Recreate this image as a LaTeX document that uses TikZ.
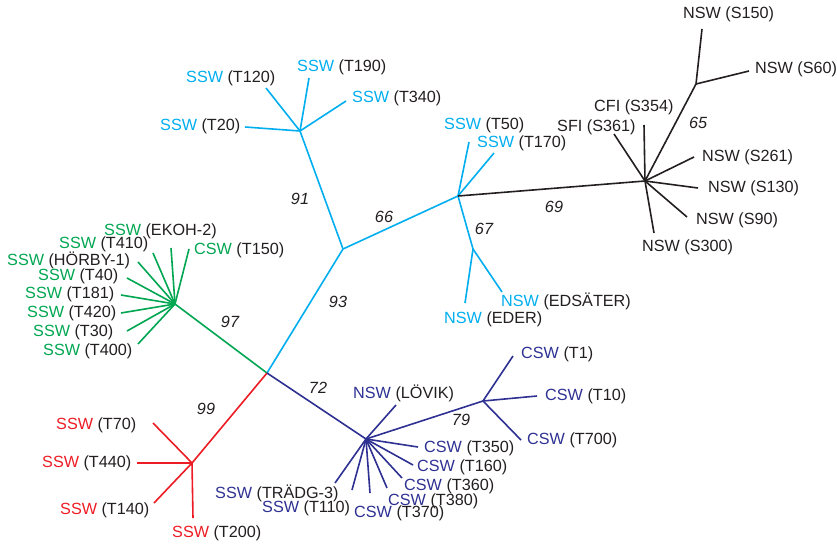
\documentclass[tikz,border=0pt]{standalone}
\usepackage{fontspec}
\setmainfont{Liberation Sans}
\definecolor{sswcyan}{RGB}{0,174,239}
\definecolor{sswgreen}{RGB}{0,166,81}
\definecolor{sswred}{RGB}{237,28,36}
\definecolor{sswblue}{RGB}{46,49,146}
\definecolor{txt}{RGB}{35,31,32}
\tikzset{
  cyanedge/.style={draw=sswcyan, line width=1.6pt},
  blackedge/.style={draw=txt, line width=1.6pt},
  greenedge/.style={draw=sswgreen, line width=1.6pt},
  rededge/.style={draw=sswred, line width=1.6pt},
  blueedge/.style={draw=sswblue, line width=1.6pt},
  lbl/.style={anchor=west, inner sep=0pt, text=txt, font=\fontsize{16.2}{18}\selectfont},
  boot/.style={inner sep=0pt, text=txt, font=\fontsize{16.2}{18}\selectfont\itshape}
}
\begin{document}
\begin{tikzpicture}[x=1pt, y=-1pt]
\useasboundingbox (0,0) rectangle (837,546);
\coordinate (root) at (267,373);
\coordinate (cm) at (343,249);
\coordinate (ct) at (300,131);
\coordinate (cr) at (458,196);
\coordinate (ce) at (473,249);
\coordinate (bk) at (645,181);
\coordinate (bt) at (696,84);
\coordinate (gr) at (175,304);
\coordinate (rd) at (192,463);
\coordinate (pl) at (366,439);
\coordinate (pr) at (483,401);
\coordinate (t20) at (245,127);
\coordinate (t120) at (266,88);
\coordinate (t190) at (309,78);
\coordinate (t340) at (346,101);
\coordinate (t50) at (469,142);
\coordinate (t170) at (494,153);
\coordinate (edsater) at (502,292);
\coordinate (eder) at (465,303);
\coordinate (s354) at (644,125);
\coordinate (s361) at (614,134);
\coordinate (s261) at (694,157);
\coordinate (s130) at (698,188);
\coordinate (s90) at (687,217);
\coordinate (s300) at (654,233);
\coordinate (s150) at (702,29);
\coordinate (s60) at (749,71);
\coordinate (ekoh) at (171,248);
\coordinate (t410) at (153,253);
\coordinate (horby) at (138,262);
\coordinate (t40) at (127,278);
\coordinate (t181) at (121,295);
\coordinate (t420) at (121,313);
\coordinate (t30) at (127,331);
\coordinate (t400) at (138,344);
\coordinate (t150) at (189,249);
\coordinate (t70) at (153,423);
\coordinate (t440) at (137,463);
\coordinate (t140) at (154,503);
\coordinate (t200) at (193,518);
\coordinate (lovik) at (396,405);
\coordinate (t350) at (418,447);
\coordinate (t160) at (413,465);
\coordinate (t360) at (402,478);
\coordinate (t380) at (387,488);
\coordinate (t370) at (370,493);
\coordinate (t110) at (352,490);
\coordinate (tradg) at (335,483);
\coordinate (t1) at (513,356);
\coordinate (t10) at (537,396);
\coordinate (t700) at (521,440);

\draw[cyanedge] (root) -- (cm);
\draw[cyanedge] (cm) -- (ct);
\draw[cyanedge] (ct) -- (t20);
\draw[cyanedge] (ct) -- (t120);
\draw[cyanedge] (ct) -- (t190);
\draw[cyanedge] (ct) -- (t340);
\draw[cyanedge] (cm) -- (cr);
\draw[cyanedge] (cr) -- (t50);
\draw[cyanedge] (cr) -- (t170);
\draw[cyanedge] (cr) -- (ce);
\draw[cyanedge] (ce) -- (edsater);
\draw[cyanedge] (ce) -- (eder);
\draw[blackedge] (cr) -- (bk);
\draw[blackedge] (bk) -- (s354);
\draw[blackedge] (bk) -- (s361);
\draw[blackedge] (bk) -- (s261);
\draw[blackedge] (bk) -- (s130);
\draw[blackedge] (bk) -- (s90);
\draw[blackedge] (bk) -- (s300);
\draw[blackedge] (bk) -- (bt);
\draw[blackedge] (bt) -- (s150);
\draw[blackedge] (bt) -- (s60);
\draw[greenedge] (root) -- (gr);
\draw[greenedge] (gr) -- (ekoh);
\draw[greenedge] (gr) -- (t410);
\draw[greenedge] (gr) -- (horby);
\draw[greenedge] (gr) -- (t40);
\draw[greenedge] (gr) -- (t181);
\draw[greenedge] (gr) -- (t420);
\draw[greenedge] (gr) -- (t30);
\draw[greenedge] (gr) -- (t400);
\draw[greenedge] (gr) -- (t150);
\draw[rededge] (root) -- (rd);
\draw[rededge] (rd) -- (t70);
\draw[rededge] (rd) -- (t440);
\draw[rededge] (rd) -- (t140);
\draw[rededge] (rd) -- (t200);
\draw[blueedge] (root) -- (pl);
\draw[blueedge] (pl) -- (lovik);
\draw[blueedge] (pl) -- (t350);
\draw[blueedge] (pl) -- (t160);
\draw[blueedge] (pl) -- (t360);
\draw[blueedge] (pl) -- (t380);
\draw[blueedge] (pl) -- (t370);
\draw[blueedge] (pl) -- (t110);
\draw[blueedge] (pl) -- (tradg);
\draw[blueedge] (pl) -- (pr);
\draw[blueedge] (pr) -- (t1);
\draw[blueedge] (pr) -- (t10);
\draw[blueedge] (pr) -- (t700);

\node[lbl] (l-t20) at (160,126) {\textcolor{sswcyan}{SSW} (T20)};
\node[lbl] (l-t120) at (186,78) {\textcolor{sswcyan}{SSW} (T120)};
\node[lbl] (l-t190) at (297,67) {\textcolor{sswcyan}{SSW} (T190)};
\node[lbl] (l-t340) at (352,98) {\textcolor{sswcyan}{SSW} (T340)};
\node[lbl] (l-t50) at (444,125) {\textcolor{sswcyan}{SSW} (T50)};
\node[lbl] (l-t170) at (477,143) {\textcolor{sswcyan}{SSW} (T170)};
\node[lbl] (l-edsater) at (501,301) {\textcolor{sswcyan}{NSW} (EDSÄTER)};
\node[lbl] (l-eder) at (444,319) {\textcolor{sswcyan}{NSW} (EDER)};
\node[lbl] (l-s354) at (594,107) {CFI (S354)};
\node[lbl] (l-s361) at (557,127) {SFI (S361)};
\node[lbl] (l-s261) at (702,157) {NSW (S261)};
\node[lbl] (l-s130) at (708,188) {NSW (S130)};
\node[lbl] (l-s90) at (696,220) {NSW (S90)};
\node[lbl] (l-s300) at (642,247) {NSW (S300)};
\node[lbl] (l-s150) at (683,14) {NSW (S150)};
\node[lbl] (l-s60) at (755,69) {NSW (S60)};
\node[lbl] (l-ekoh) at (104,231) {\textcolor{sswgreen}{SSW} (EKOH-2)};
\node[lbl] (l-t410) at (59,244) {\textcolor{sswgreen}{SSW} (T410)};
\node[lbl] (l-horby) at (7,260) {\textcolor{sswgreen}{SSW} (HÖRBY-1)};
\node[lbl] (l-t40) at (38,276) {\textcolor{sswgreen}{SSW} (T40)};
\node[lbl] (l-t181) at (25,294) {\textcolor{sswgreen}{SSW} (T181)};
\node[lbl] (l-t420) at (27,313) {\textcolor{sswgreen}{SSW} (T420)};
\node[lbl] (l-t30) at (33,332) {\textcolor{sswgreen}{SSW} (T30)};
\node[lbl] (l-t400) at (43,351) {\textcolor{sswgreen}{SSW} (T400)};
\node[lbl] (l-t150) at (194,250) {\textcolor{sswgreen}{CSW} (T150)};
\node[lbl] (l-t70) at (56,425) {\textcolor{sswred}{SSW} (T70)};
\node[lbl] (l-t440) at (42,463) {\textcolor{sswred}{SSW} (T440)};
\node[lbl] (l-t140) at (60,510) {\textcolor{sswred}{SSW} (T140)};
\node[lbl] (l-t200) at (172,533) {\textcolor{sswred}{SSW} (T200)};
\node[lbl] (l-lovik) at (353,393) {\textcolor{sswblue}{NSW} (LÖVIK)};
\node[lbl] (l-t350) at (424,448) {\textcolor{sswblue}{CSW} (T350)};
\node[lbl] (l-t160) at (417,467) {\textcolor{sswblue}{CSW} (T160)};
\node[lbl] (l-t360) at (404,486) {\textcolor{sswblue}{CSW} (T360)};
\node[lbl] (l-t380) at (388,501) {\textcolor{sswblue}{CSW} (T380)};
\node[lbl] (l-t370) at (354,513) {\textcolor{sswblue}{CSW} (T370)};
\node[lbl] (l-t110) at (262,508) {\textcolor{sswblue}{SSW} (T110)};
\node[lbl] (l-tradg) at (215,493) {\textcolor{sswblue}{SSW} (TRÄDG-3)};
\node[lbl] (l-t1) at (521,354) {\textcolor{sswblue}{CSW} (T1)};
\node[lbl] (l-t10) at (545,396) {\textcolor{sswblue}{CSW} (T10)};
\node[lbl] (l-t700) at (527,440) {\textcolor{sswblue}{CSW} (T700)};

\node[boot] (b91) at (300,199) {91};
\node[boot] (b66) at (384,217) {66};
\node[boot] (b93) at (338,302) {93};
\node[boot] (b97) at (230,322) {97};
\node[boot] (b99) at (206,409) {99};
\node[boot] (b72) at (318,388) {72};
\node[boot] (b79) at (461,420) {79};
\node[boot] (b67) at (484,229) {67};
\node[boot] (b69) at (554,207) {69};
\node[boot] (b65) at (698,123) {65};
\end{tikzpicture}
\end{document}
